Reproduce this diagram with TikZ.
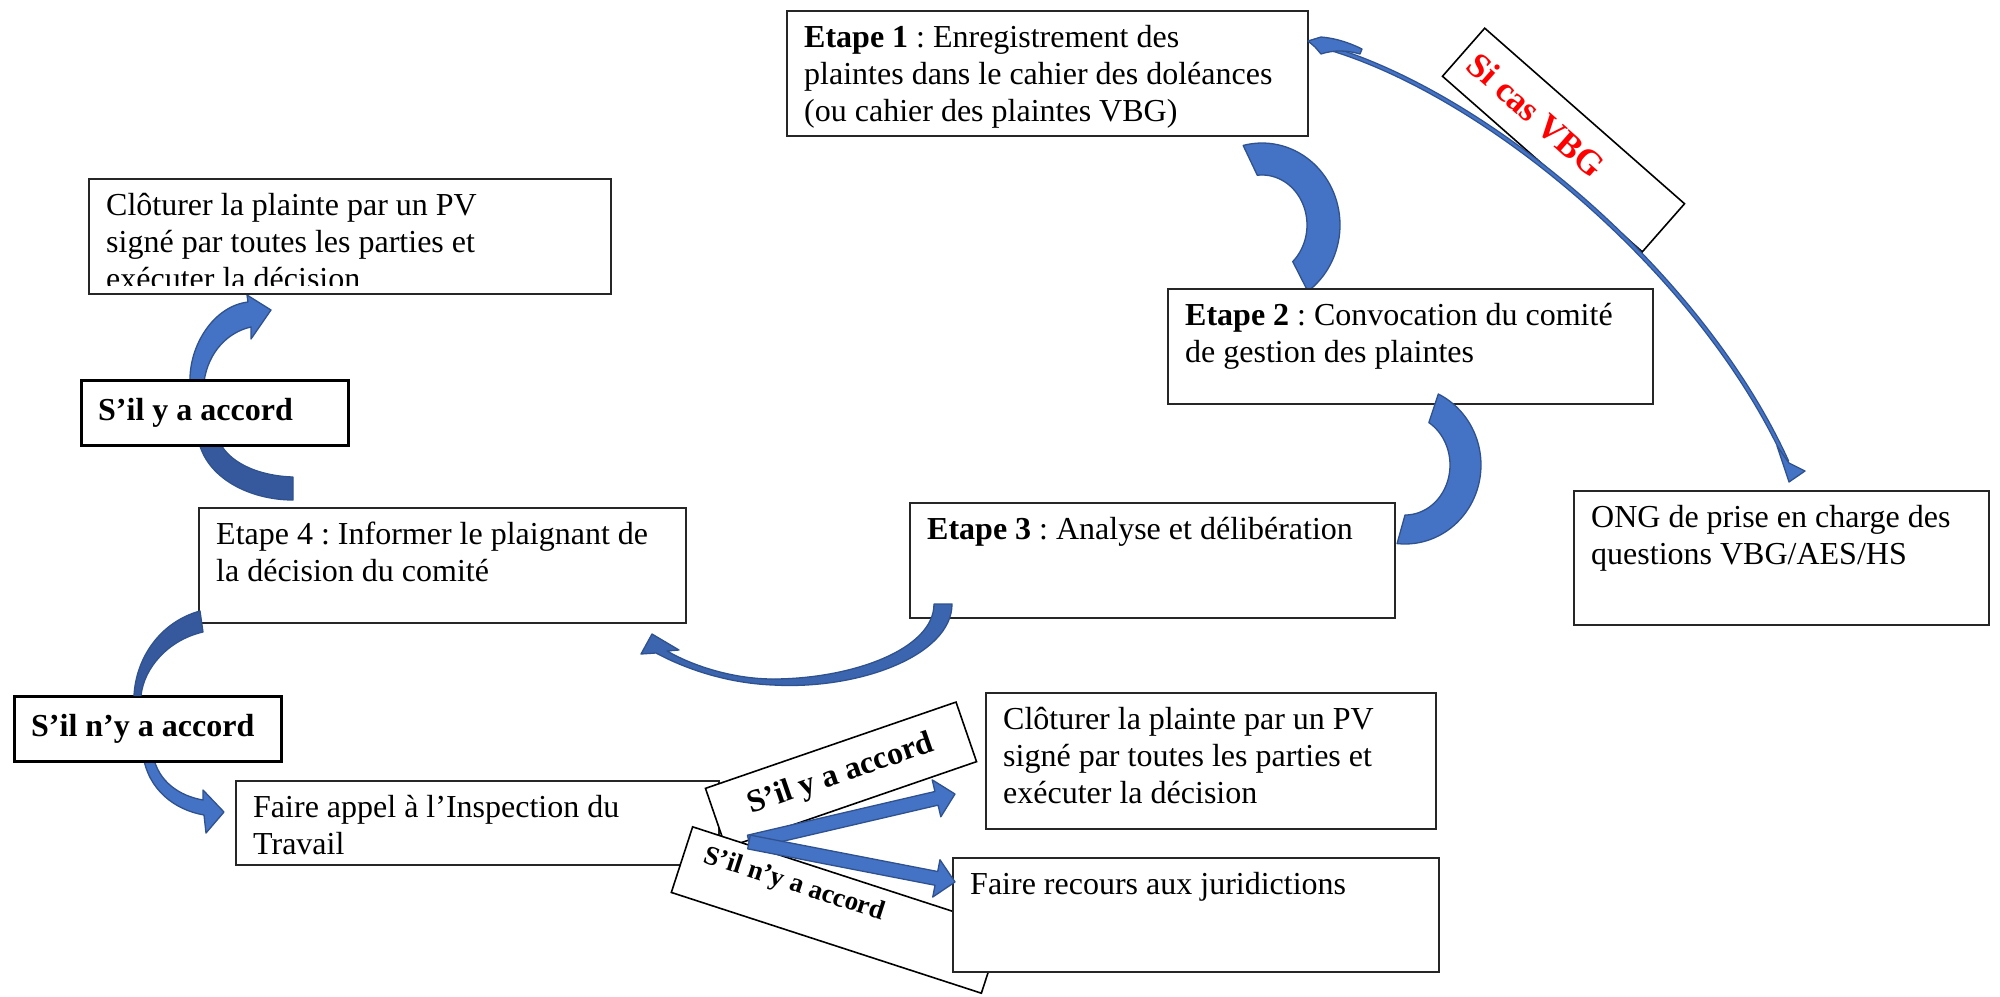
\documentclass[tikz,border=0pt]{standalone}
\usepackage{fontspec}
\setmainfont{Liberation Serif}
\frenchspacing
\usetikzlibrary{calc}
\definecolor{afill}{HTML}{4472C4}
\definecolor{aline}{HTML}{2F528F}
\definecolor{adark}{HTML}{35599C}
\definecolor{amid}{HTML}{3C65B0}
\definecolor{vbgred}{HTML}{FF0000}
\newcommand{\blockarrowAB}[2]{%
  \coordinate (#1#2h) at ($(#2)!19pt!(#1)$);
  \filldraw[arr] ($(#1)!7pt!90:(#2)$) -- ($(#1#2h)!7pt!-90:(#1)$) -- ($(#1#2h)!19pt!-90:(#1)$) -- (#2)
    -- ($(#1#2h)!19pt!90:(#1)$) -- ($(#1#2h)!7pt!90:(#1)$) -- ($(#1)!7pt!-90:(#2)$) -- cycle;}
\begin{document}
\begin{tikzpicture}[x=1pt,y=-1pt,
  box/.style={draw=black!85, line width=1.6pt, fill=white, inner sep=0pt, anchor=north west},
  thickbox/.style={box, draw=black, line width=2.8pt},
  rbox/.style={draw=black, line width=1.6pt, fill=white, inner sep=0pt},
  txt/.style={anchor=base west, inner sep=0pt, font=\fontsize{32}{36.8}\selectfont},
  btxt/.style={txt, font=\bfseries\fontsize{32}{36.8}\selectfont},
  arr/.style={fill=afill, draw=aline, line width=1.3pt, line join=round},
  darr/.style={arr, fill=adark},
  marr/.style={arr, fill=amid}]
\useasboundingbox (0,0) rectangle (2000,996);
\fill[white] (0,0) rectangle (2000,996);

% ---- arrows lying under the boxes
\filldraw[arr] plot[domain=-104:54, samples=50] ({1262+78*cos(\x)},{225+82*sin(\x)})
  -- plot[domain=47:-96, samples=50] ({1262+45*cos(\x)},{225+50*sin(\x)}) -- cycle;
\filldraw[darr] (198,438) .. controls (205,478) and (250,500) .. (293,500) -- (293,477)
  .. controls (258,476) and (226,462) .. (218,438) -- cycle;
\filldraw[arr] (190,382) .. controls (189,345) and (214,306) .. (248,302) -- (247,295) -- (271,310)
  -- (251,339) -- (251,327) .. controls (228,332) and (208,352) .. (204,382) -- cycle;
\filldraw[arr] (143,755) .. controls (148,790) and (175,810) .. (204,815) -- (206,833) -- (224,812)
  -- (203,790) -- (203,800) .. controls (180,796) and (158,782) .. (153,755) -- cycle;

% ---- boxes
\node[box, minimum width=521, minimum height=125] (e1) at (786,10) {};
\begin{scope}
  \clip (786,10) rectangle (1307,127);
  \node[txt] (e1a) at (804,47) {\textbf{Etape 1} : Enregistrement des};
  \node[txt] (e1b) at (804,84) {plaintes dans le cahier des doléances};
  \node[txt] (e1c) at (804,121) {(ou cahier des plaintes VBG)};
\end{scope}

\node[box, minimum width=485, minimum height=115] (e2) at (1167,288) {};
\node[txt] (e2a) at (1185,325) {\textbf{Etape 2} : Convocation du comité};
\node[txt] (e2b) at (1185,362) {de gestion des plaintes};

\node[box, minimum width=485, minimum height=115] (e3) at (909,502) {};
\node[txt] (e3a) at (927,539) {\textbf{Etape 3} : Analyse et délibération};

\node[box, minimum width=487, minimum height=115] (e4) at (198,507) {};
\node[txt] (e4a) at (216,544) {Etape 4 : Informer le plaignant de};
\node[txt] (e4b) at (216,581) {la décision du comité};

\node[box, minimum width=522, minimum height=115] (c1) at (88,178) {};
\begin{scope}
  \clip (88,178) rectangle (610,285);
  \node[txt] (c1a) at (106,215) {Clôturer la plainte par un PV};
  \node[txt] (c1b) at (106,252) {signé par toutes les parties et};
  \node[txt] (c1c) at (106,289) {exécuter la décision};
\end{scope}

\node[thickbox, minimum width=267, minimum height=65] (a1) at (80,379) {};
\node[btxt] (a1t) at (98,420) {S’il y a accord};

\node[thickbox, minimum width=267, minimum height=65] (n1) at (13,695) {};
\node[btxt] (n1t) at (31,736) {S’il n’y a accord};

\node[box, minimum width=483, minimum height=84] (fa) at (235,780) {};
\begin{scope}
  \clip (235,780) rectangle (718,856);
  \node[txt] (faa) at (253,817) {Faire appel à l’Inspection du};
  \node[txt] (fab) at (253,854) {Travail};
\end{scope}

\node[box, minimum width=415, minimum height=134] (ong) at (1573,490) {};
\node[txt] (onga) at (1591,527) {ONG de prise en charge des};
\node[txt] (ongb) at (1591,564) {questions VBG/AES/HS};

% rotated labels
\node[rbox, rotate=-41.3, minimum width=266, minimum height=64] (vbg) at (1563.5,140) {};
\node[rotate=-41.3, inner sep=0pt, text=vbgred, font=\bfseries\fontsize{35}{40}\selectfont] (vbgt) at (1536,115) {Si cas VBG};

\node[rbox, rotate=19, minimum width=265, minimum height=63, font=\bfseries\fontsize{32}{36}\selectfont] (a2) at (841,775) {S’il y a accord};
\node[rbox, rotate=-18, minimum width=326, minimum height=69] (n2) at (837,910) {};
\node[rotate=-18, inner sep=0pt, font=\bfseries\fontsize{27}{31}\selectfont] (n2t) at (794,885) {S’il n’y a accord};

\node[box, minimum width=450, minimum height=136] (c2) at (985,692) {};
\node[txt] (c2a) at (1003,729) {Clôturer la plainte par un PV};
\node[txt] (c2b) at (1003,766) {signé par toutes les parties et};
\node[txt] (c2c) at (1003,803) {exécuter la décision};

\node[box, minimum width=486, minimum height=114] (fr) at (952,857) {};
\node[txt] (fra) at (970,894) {Faire recours aux juridictions};

% ---- arrows lying over the boxes
\filldraw[arr] plot[domain=-64:96, samples=50] ({1405+76*cos(\x)},{465+79*sin(\x)})
  -- plot[domain=90:-58, samples=50] ({1405+45*cos(\x)},{465+50*sin(\x)}) -- cycle;
\filldraw[marr] (952,604) .. controls (952,655) and (860,690) .. (773,685)
  .. controls (722,683) and (680,666) .. (656,653) -- (641,654) -- (652,634) -- (679,650) -- (667,651)
  .. controls (695,667) and (735,679) .. (773,679) .. controls (850,679) and (934,650) .. (934,604) -- cycle;
\filldraw[darr] (200,611) .. controls (160,622) and (136,658) .. (134,695.5) -- (141,695.5)
  .. controls (144,668) and (168,640) .. (203,632) -- cycle;

% VBG thin curved arrow
\coordinate (vbgstart) at (1318,45);
\coordinate (vbgend) at (1787,462);
\draw[aline, line width=5pt] (vbgstart) .. controls (1480,88) and (1700,270) .. (vbgend);
\draw[afill, line width=2.4pt] (vbgstart) .. controls (1480,88) and (1700,270) .. (vbgend);
\filldraw[arr] (1308,41) -- (1321,37) .. controls (1334,38) and (1348,42) .. (1362,49) -- (1360,54)
  .. controls (1346,50) and (1333,50) .. (1321,54) -- (1315,47) -- cycle;
\filldraw[arr] (1777,446) -- (1789,463) -- (1805,471) -- (1789,482) -- cycle;

% straight block arrows
\coordinate (fork) at (749,842);
\coordinate (tipc) at (955,794);
\coordinate (tipr) at (955,882);
\blockarrowAB{fork}{tipc}
\blockarrowAB{fork}{tipr}
\end{tikzpicture}
\end{document}
